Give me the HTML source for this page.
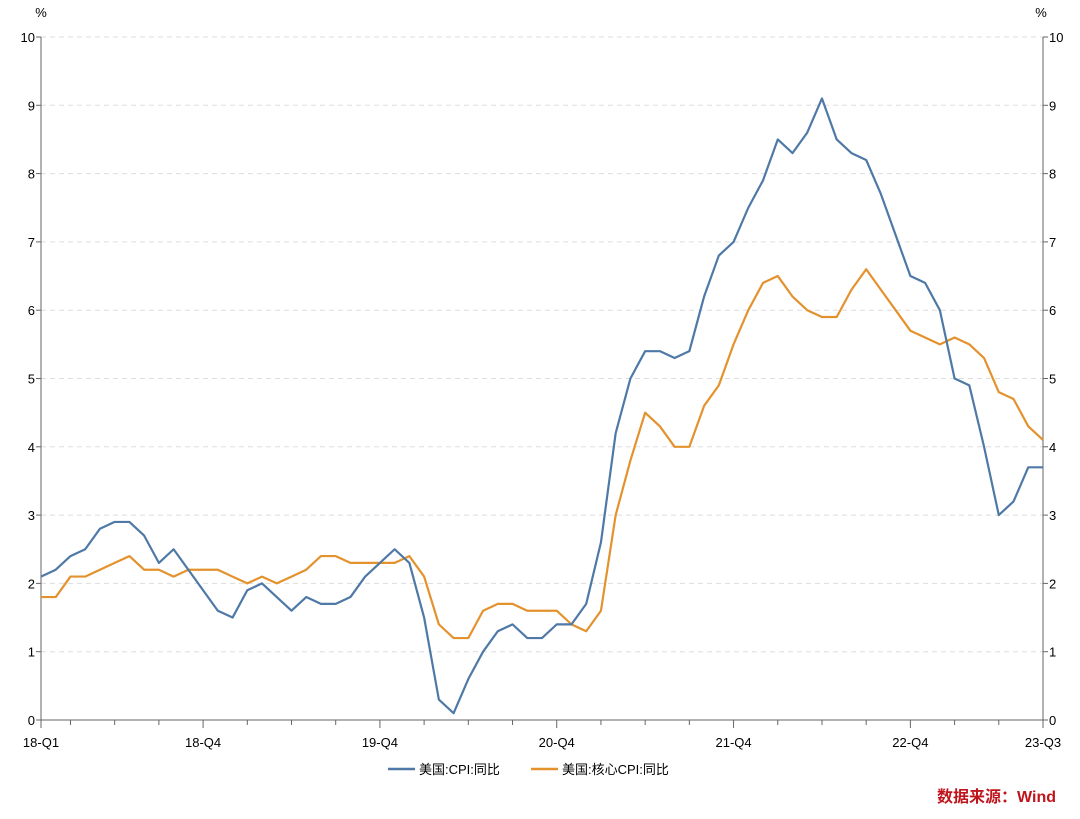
<!DOCTYPE html>
<html><head><meta charset="utf-8"><style>
body{margin:0;background:#fff;}
svg text{font-family:"Liberation Sans","Noto Sans CJK SC",sans-serif;}
</style></head><body>
<svg id="chart" width="1080" height="814" xmlns="http://www.w3.org/2000/svg">
<g id="grid"></g><g id="axes"></g><g id="series"></g>
<text x="41" y="17" font-size="13" text-anchor="middle">%</text>
<text x="1041" y="17" font-size="13" text-anchor="middle">%</text>
<g>
<line x1="388" y1="769" x2="415" y2="769" stroke="#4e79a7" stroke-width="2.5"/>
<text x="419" y="774" font-size="13">美国:CPI:同比</text>
<line x1="531" y1="769" x2="558" y2="769" stroke="#e3922d" stroke-width="2.5"/>
<text x="562" y="774" font-size="13">美国:核心CPI:同比</text>
</g>
<text x="1056" y="802" font-size="16" font-weight="bold" fill="#c0141c" text-anchor="end">数据来源：Wind</text>
</svg>
<script>
const cpi=[2.1,2.2,2.4,2.5,2.8,2.9,2.9,2.7,2.3,2.5,2.2,1.9,
1.6,1.5,1.9,2.0,1.8,1.6,1.8,1.7,1.7,1.8,2.1,2.3,
2.5,2.3,1.5,0.3,0.1,0.6,1.0,1.3,1.4,1.2,1.2,1.4,
1.4,1.7,2.6,4.2,5.0,5.4,5.4,5.3,5.4,6.2,6.8,7.0,
7.5,7.9,8.5,8.3,8.6,9.1,8.5,8.3,8.2,7.7,7.1,6.5,
6.4,6.0,5.0,4.9,4.0,3.0,3.2,3.7,3.7];
const core=[1.8,1.8,2.1,2.1,2.2,2.3,2.4,2.2,2.2,2.1,2.2,2.2,
2.2,2.1,2.0,2.1,2.0,2.1,2.2,2.4,2.4,2.3,2.3,2.3,
2.3,2.4,2.1,1.4,1.2,1.2,1.6,1.7,1.7,1.6,1.6,1.6,
1.4,1.3,1.6,3.0,3.8,4.5,4.3,4.0,4.0,4.6,4.9,5.5,
6.0,6.4,6.5,6.2,6.0,5.9,5.9,6.3,6.6,6.3,6.0,5.7,
5.6,5.5,5.6,5.5,5.3,4.8,4.7,4.3,4.1];
const xLabels=["18-Q1","18-Q4","19-Q4","20-Q4","21-Q4","22-Q4","23-Q3"];
const xLabelIdx=[0,11,23,35,47,59,68];
const yTicks=[0,1,2,3,4,5,6,7,8,9,10];
const X0=41,X1=1043,Y0=720,Y1=37,N=cpi.length;
const x=i=>X0+(X1-X0)*i/(N-1);
const y=v=>Y0-(Y0-Y1)*v/10;
const NS="http://www.w3.org/2000/svg";
function mk(t,a,p){const e=document.createElementNS(NS,t);for(const k in a)e.setAttribute(k,a[k]);p.appendChild(e);return e;}
const grid=document.getElementById('grid'),axes=document.getElementById('axes'),ser=document.getElementById('series');
yTicks.forEach(v=>{
 if(v>0){const g=mk('line',{x1:X0,x2:X1,y1:y(v),y2:y(v),stroke:'#ddd','stroke-dasharray':'5,4'},grid);
 
 }
 const l=mk('text',{x:X0-6,y:y(v)+5,'font-size':13,'text-anchor':'end'},axes);l.textContent=v;
 
 
 const r=mk('text',{x:X1+6,y:y(v)+5,'font-size':13},axes);r.textContent=v;
 
 
 mk('line',{x1:X0-5,x2:X0,y1:y(v),y2:y(v),stroke:'#666'},axes);
 mk('line',{x1:X1,x2:X1+5,y1:y(v),y2:y(v),stroke:'#666'},axes);
});
const la=mk('line',{x1:X0,x2:X0,y1:Y1,y2:Y0,stroke:'#666'},axes);


const ra=mk('line',{x1:X1,x2:X1,y1:Y1,y2:Y0,stroke:'#666'},axes);


const xa=mk('line',{x1:X0,x2:X1,y1:Y0,y2:Y0,stroke:'#666'},axes);


for(let i=0;i<N;i++){if(i===0||i%3===2||i===N-1){const major=xLabelIdx.includes(i);
 mk('line',{x1:x(i),x2:x(i),y1:Y0,y2:Y0+(major?8:5),stroke:'#666'},axes);}}
xLabels.forEach((s,k)=>{const t=mk('text',{x:x(xLabelIdx[k]),y:Y0+27,'font-size':13,'text-anchor':'middle'},axes);t.textContent=s;
 
 });
function line(d,c,name){const p=mk('polyline',{points:d.map((v,i)=>x(i)+','+y(v)).join(' '),fill:'none',stroke:c,'stroke-width':2.2,'stroke-linejoin':'round'},ser);
 
 }
line(core,'#e3922d','core-cpi-line');
line(cpi,'#4e79a7','cpi-line');
</script>
</body></html>
